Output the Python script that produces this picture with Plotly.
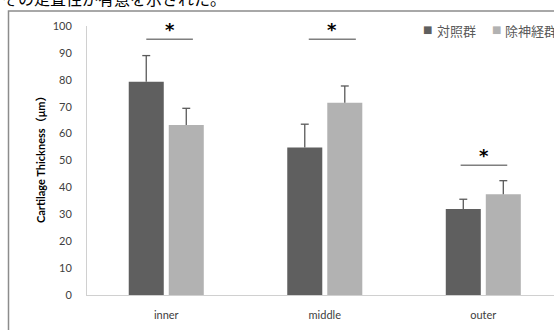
import plotly.graph_objects as go

categories = ["inner", "middle", "outer"]
series_names = ["対照群", "除神経群"]
control_vals = [79.3, 54.8, 32.0]
control_err = [9.7, 8.7, 3.6]
denerv_vals = [63.2, 71.5, 37.5]
denerv_err = [6.2, 6.2, 5.0]
sig_y = [95.1, 95.1, 48.2]
sig_labels = ["*", "*", "*"]
y_ticks = [0, 10, 20, 30, 40, 50, 60, 70, 80, 90, 100]
y_title = "Cartilage Thickness（μm）"
top_text = "その走査性が有意を示された。"

DARK = "#5f5f5f"
LIGHT = "#b2b2b2"
ERR = "#595959"
FONT = "Lato, 'Noto Sans CJK JP', sans-serif"
BARGAP = 0.495
GROUPGAP = 0.125

fig = go.Figure()
series = [(series_names[0], control_vals, control_err, DARK),
          (series_names[1], denerv_vals, denerv_err, LIGHT)]
slot = (1 - BARGAP) / len(series)
for k, (name, vals, errs, col) in enumerate(series):
    fig.add_trace(go.Bar(
        x=categories, y=vals, name=name,
        marker=dict(color=col, line=dict(width=0)),
        showlegend=False,
    ))
    # upward-only error bars (no lower cap), positioned on the bar centre
    off = -(1 - BARGAP) / 2 + slot * (k + 0.5)
    cap = 0.025
    for i, (v, e) in enumerate(zip(vals, errs)):
        xc = i + off
        fig.add_shape(type="line", xref="x", yref="y", x0=xc, x1=xc, y0=v, y1=v + e,
                      line=dict(color=ERR, width=1.3))
        fig.add_shape(type="line", xref="x", yref="y", x0=xc - cap, x1=xc + cap,
                      y0=v + e, y1=v + e, line=dict(color=ERR, width=1.3))

sig_offsets = [(-0.126, 0.168), (-0.101, 0.196), (-0.143, 0.151)]
for i, (yv, lab) in enumerate(zip(sig_y, sig_labels)):
    x0, x1 = i + sig_offsets[i][0], i + sig_offsets[i][1]
    fig.add_shape(type="line", xref="x", yref="y", x0=x0, x1=x1, y0=yv, y1=yv,
                  line=dict(color="#7f7f7f", width=1.5))
    fig.add_annotation(x=(x0 + x1) / 2, y=yv, xref="x", yref="y", text="<b>" + lab + "</b>",
                       showarrow=False, yanchor="bottom", yshift=-3,
                       font=dict(size=18, color="#000000", family="DejaVu Sans"))

W = 467.0
H = 269.0
def px_x(p):
    return (p - 87) / W
def px_y(p):
    return (295 - p) / H

leg = [(427.5, series_names[0], DARK, 435), (496.5, series_names[1], LIGHT, 503)]
for sx, name, col, tx in leg:
    fig.add_annotation(x=px_x(sx), y=px_y(29), xref="paper", yref="paper", text="■",
                       showarrow=False, xanchor="center", yanchor="middle",
                       font=dict(size=10, color=col, family="DejaVu Sans"))
    fig.add_annotation(x=px_x(tx), y=px_y(30), xref="paper", yref="paper", text=name,
                       showarrow=False, xanchor="left", yanchor="middle",
                       font=dict(size=13, color="#595959", family="Noto Sans CJK JP"))

fig.add_annotation(x=px_x(40), y=px_y(157), xref="paper", yref="paper", text="<b>" + y_title + "</b>",
                   textangle=-90, showarrow=False, xanchor="center", yanchor="middle",
                   font=dict(size=11, color="#000000", family=FONT))

fig.add_annotation(x=px_x(0), y=px_y(-2), xref="paper", yref="paper", text=top_text,
                   showarrow=False, xanchor="left", yanchor="middle",
                   font=dict(size=16, color="#000000", family="Noto Sans CJK JP"))

fig.add_shape(type="path", xref="paper", yref="paper",
              path=f"M {px_x(8.5)},{px_y(345)} L {px_x(8.5)},{px_y(11)} L {px_x(570)},{px_y(11)}",
              line=dict(color="#8c8c8c", width=1.5))

fig.update_layout(
    width=554, height=330,
    margin=dict(l=87, r=0, t=26, b=35, autoexpand=False),
    paper_bgcolor="white", plot_bgcolor="white",
    barmode="group", bargap=BARGAP, bargroupgap=GROUPGAP,
    font=dict(family=FONT, size=11, color="#595959"),
    xaxis=dict(range=[-0.5, 2.446], showline=True, linecolor="#d0d0d0", linewidth=1,
               ticks="", showgrid=False, tickfont=dict(size=11, color="#404040"),
               ticklabelstandoff=10, automargin=False),
    yaxis=dict(range=[0, 100], tickvals=y_ticks, showline=True, linecolor="#d0d0d0",
               linewidth=1, ticks="", showgrid=False, zeroline=False,
               tickfont=dict(size=11, color="#404040"), ticklabelstandoff=12,
               automargin=False),
)

fig.write_html("out.html", config={"displayModeBar": False},
               post_script="document.body.style.margin='0';document.body.style.overflow='hidden';")
